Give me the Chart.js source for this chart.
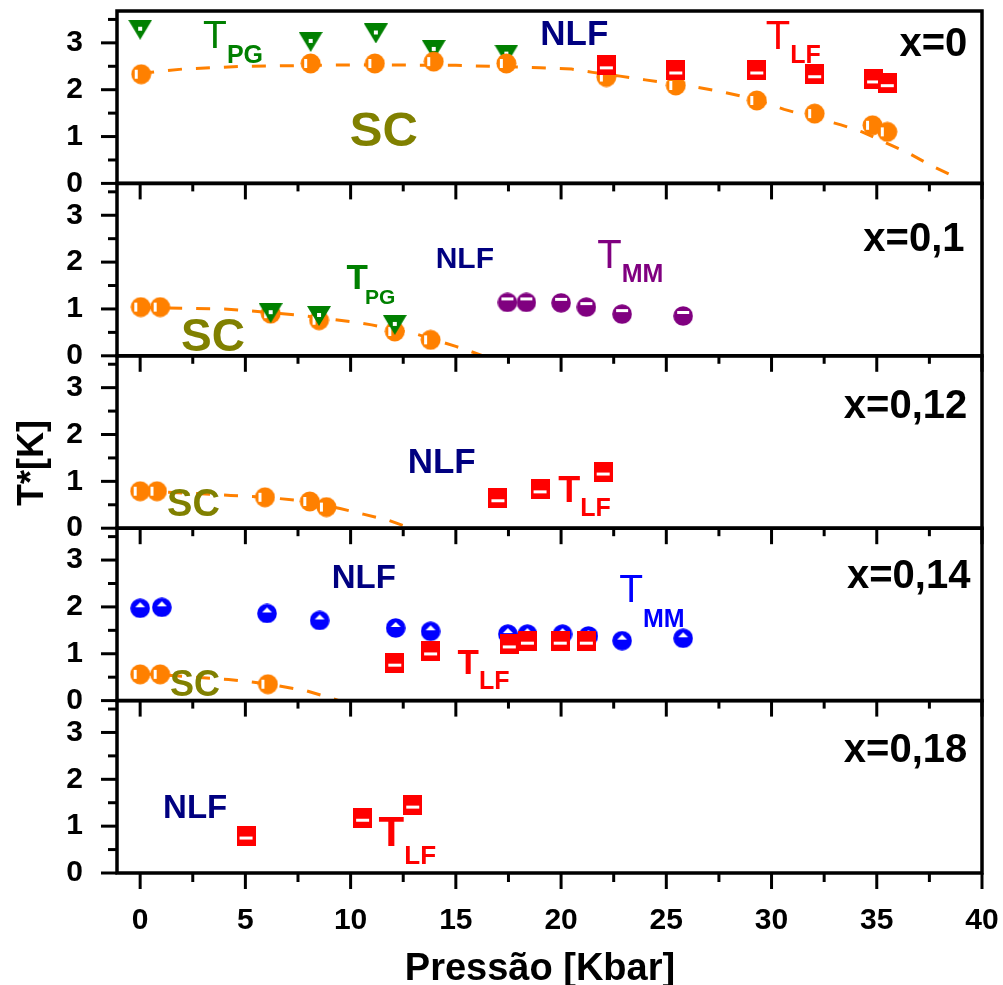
<!DOCTYPE html>
<html><head><meta charset="utf-8">
<script src="https://cdn.jsdelivr.net/npm/chart.js@4.4.1/dist/chart.umd.min.js"></script>
<style>html,body{margin:0;padding:0;background:#fff;}canvas{display:block;}</style>
</head><body>
<canvas id="c" width="1003" height="985"></canvas>
<script>
// ---------- DATA ----------
const xTickValues = [0, 5, 10, 15, 20, 25, 30, 35, 40];
const xMinorValues = [2.5, 7.5, 12.5, 17.5, 22.5, 27.5, 32.5, 37.5];
const yTickValues = [0, 1, 2, 3];
const yMinorValues = [0.5, 1.5, 2.5, 3.5];
const panelLabels = ['x=0', 'x=0,1', 'x=0,12', 'x=0,14', 'x=0,18'];

// x = 0
const pg0_x = [0, 8.1, 11.2, 13.95, 17.4];
const pg0_y = [3.28, 3.02, 3.2, 2.85, 2.75];
const sc0_x = [0.05, 8.1, 11.15, 13.95, 17.4, 22.15, 25.45, 29.3, 32.05, 34.8, 35.5];
const sc0_y = [2.33, 2.56, 2.56, 2.6, 2.56, 2.27, 2.09, 1.77, 1.49, 1.24, 1.1];
const lf0_x = [22.15, 25.45, 29.3, 32.05, 34.85, 35.5];
const lf0_y = [2.52, 2.41, 2.41, 2.33, 2.22, 2.14];
const fit0_x = [0, 2, 5, 10, 15, 19, 20.5, 21.5, 22.8, 24, 26.5, 27.7, 29.2, 30.6, 33.3, 34.3, 36.5, 37.5, 39];
const fit0_y = [2.35, 2.44, 2.5, 2.53, 2.52, 2.47, 2.44, 2.37, 2.29, 2.21, 2.05, 1.95, 1.8, 1.58, 1.25, 1.1, 0.65, 0.4, 0.08];

// x = 0,1
const sc1_x = [0.03, 0.95, 6.2, 8.5, 12.1, 13.8];
const sc1_y = [1.04, 1.04, 0.9, 0.76, 0.52, 0.34];
const pg1_x = [6.2, 8.5, 12.1];
const pg1_y = [0.91, 0.85, 0.66];
const mm1_x = [17.45, 18.35, 20.0, 21.2, 22.9, 25.8];
const mm1_y = [1.14, 1.14, 1.13, 1.04, 0.89, 0.85];
const fit1_x = [0, 4, 6, 7.5, 10, 11, 13, 15, 16.3];
const fit1_y = [1.03, 1.0, 0.93, 0.87, 0.73, 0.66, 0.48, 0.2, 0];

// x = 0,12
const sc2_x = [0, 0.8, 5.93, 8.06, 8.85];
const sc2_y = [0.79, 0.79, 0.66, 0.57, 0.45];
const lf2_x = [17.0, 19.0, 22.0];
const lf2_y = [0.64, 0.83, 1.21];
const fit2_x = [0, 4.3, 6, 8, 9.5, 10.6, 11.8, 12.85];
const fit2_y = [0.8, 0.7, 0.66, 0.57, 0.42, 0.3, 0.17, 0];

// x = 0,14
const mm3_x = [0, 1.03, 6.03, 8.53, 12.14, 13.8, 17.47, 18.4, 20.07, 21.3, 22.9, 25.8];
const mm3_y = [1.97, 1.99, 1.86, 1.71, 1.55, 1.48, 1.42, 1.42, 1.42, 1.38, 1.28, 1.33];
const lf3_x = [12.1, 13.8, 17.54, 18.4, 19.96, 21.2];
const lf3_y = [0.81, 1.05, 1.2, 1.28, 1.28, 1.28];
const sc3_x = [0, 0.95, 6.07];
const sc3_y = [0.56, 0.56, 0.35];
const fit3_x = [0, 4.2, 6, 7.9, 9.45];
const fit3_y = [0.58, 0.45, 0.36, 0.21, 0];

// x = 0,18
const lf4_x = [5.03, 10.57, 12.95];
const lf4_y = [0.8, 1.18, 1.46];

// ---------- STYLE ----------
const ORANGE = '#FF8000', GREEN = '#008000', OLIVE = '#808000', NAVY = '#000080',
      RED = '#FF0000', BLUE = '#0000FF', PURPLE = '#800080';
const FONT = '"Liberation Sans", Arial, sans-serif';
const AX = ['y0', 'y1', 'y2', 'y3', 'y4'];

function mk(w, h, draw) { const c = document.createElement('canvas'); c.width = w; c.height = h; draw(c.getContext('2d')); return c; }
const mOrange = mk(21, 21, g => { g.fillStyle = ORANGE; g.beginPath(); g.arc(10.5, 10.5, 10, 0, 2 * Math.PI); g.fill(); g.fillStyle = '#fff'; g.fillRect(4, 6, 3, 9); });
const mRed = mk(19, 20, g => { g.fillStyle = RED; g.fillRect(0, 0, 19, 20); g.fillStyle = '#fff'; g.fillRect(3, 11, 13, 3); });
const mGreen = mk(24, 20, g => { g.fillStyle = GREEN; g.beginPath(); g.moveTo(0, 0); g.lineTo(24, 0); g.lineTo(12, 20); g.closePath(); g.fill(); g.fillStyle = '#fff'; g.fillRect(10, 7, 4, 4); });
const mBlue = mk(20, 20, g => { g.fillStyle = BLUE; g.beginPath(); g.arc(10, 10, 9.8, 0, 2 * Math.PI); g.fill(); g.fillStyle = '#fff'; g.beginPath(); g.moveTo(5, 9); g.lineTo(15, 9); g.lineTo(10, 4); g.closePath(); g.fill(); });
const mPurple = mk(20, 20, g => { g.fillStyle = PURPLE; g.beginPath(); g.arc(10, 10, 9.8, 0, 2 * Math.PI); g.fill(); g.fillStyle = '#fff'; g.fillRect(4, 5, 12, 3); });

function pts(xs, ys) { return xs.map((x, i) => ({ x: x, y: ys[i] })); }
function marks(xs, ys, axis, img, order) {
  return { data: pts(xs, ys), xAxisID: 'x', yAxisID: axis, pointStyle: img, pointRadius: 10, showLine: false, order: order };
}
function fit(xs, ys, axis) {
  return { data: pts(xs, ys), xAxisID: 'x', yAxisID: axis, showLine: true, borderColor: ORANGE, borderWidth: 3,
           borderDash: [14, 14], pointRadius: 0, fill: false, tension: 0, order: 20 };
}

const datasets = [
  fit(fit0_x, fit0_y, 'y0'), fit(fit1_x, fit1_y, 'y1'), fit(fit2_x, fit2_y, 'y2'), fit(fit3_x, fit3_y, 'y3'),
  marks(pg0_x, pg0_y, 'y0', mGreen, 8), marks(sc0_x, sc0_y, 'y0', mOrange, 7), marks(lf0_x, lf0_y, 'y0', mRed, 2),
  marks(sc1_x, sc1_y, 'y1', mOrange, 7), marks(pg1_x, pg1_y, 'y1', mGreen, 5), marks(mm1_x, mm1_y, 'y1', mPurple, 3),
  marks(sc2_x, sc2_y, 'y2', mOrange, 7), marks(lf2_x, lf2_y, 'y2', mRed, 2),
  marks(sc3_x, sc3_y, 'y3', mOrange, 7), marks(mm3_x, mm3_y, 'y3', mBlue, 4), marks(lf3_x, lf3_y, 'y3', mRed, 2),
  marks(lf4_x, lf4_y, 'y4', mRed, 2)
];

// text annotations (data coordinates of text anchor)
const notes = [
  { axis: 'y0', x: 2.99, y: 2.88, text: 'T', w: 'normal', size: 39, color: GREEN, sub: 'PG', subSize: 25, subDy: 15 },
  { axis: 'y0', x: 9.96, y: 0.79, text: 'SC', w: 'bold', size: 49, color: OLIVE },
  { axis: 'y0', x: 19.01, y: 2.95, text: 'NLF', w: 'bold', size: 35, color: NAVY },
  { axis: 'y0', x: 29.73, y: 2.86, text: 'T', w: 'normal', size: 40, color: RED, sub: 'LF', subSize: 25, subDy: 14 },
  { axis: 'y1', x: 9.81, y: 1.43, text: 'T', w: 'bold', size: 35, color: GREEN, sub: 'PG', subSize: 21, subDy: 15, subDx: -3 },
  { axis: 'y1', x: 14.04, y: 1.88, text: 'NLF', w: 'bold', size: 30, color: NAVY },
  { axis: 'y1', x: 1.94, y: 0.10, text: 'SC', w: 'bold', size: 46, color: OLIVE },
  { axis: 'y1', x: 21.72, y: 1.88, text: 'T', w: 'normal', size: 40, color: PURPLE, sub: 'MM', subSize: 25, subDy: 14 },
  { axis: 'y2', x: 12.71, y: 1.18, text: 'NLF', w: 'bold', size: 35, color: NAVY },
  { axis: 'y2', x: 1.28, y: 0.26, text: 'SC', w: 'bold', size: 38, color: OLIVE },
  { axis: 'y2', x: 19.87, y: 0.56, text: 'T', w: 'bold', size: 36, color: RED, sub: 'LF', subSize: 25, subDy: 14 },
  { axis: 'y3', x: 9.1, y: 2.40, text: 'NLF', w: 'bold', size: 33, color: NAVY },
  { axis: 'y3', x: 1.42, y: 0.09, text: 'SC', w: 'bold', size: 36, color: OLIVE },
  { axis: 'y3', x: 15.08, y: 0.56, text: 'T', w: 'bold', size: 35, color: RED, sub: 'LF', subSize: 25, subDy: 15 },
  { axis: 'y3', x: 22.76, y: 2.10, text: 'T', w: 'normal', size: 39, color: BLUE, sub: 'MM', subSize: 25, subDy: 25 },
  { axis: 'y4', x: 1.09, y: 1.18, text: 'NLF', w: 'bold', size: 33, color: NAVY },
  { axis: 'y4', x: 11.33, y: 0.57, text: 'T', w: 'bold', size: 42, color: RED, sub: 'LF', subSize: 26, subDy: 18 },
  { axis: 'y0', x: 39.3, y: 2.71, text: panelLabels[0], w: 'bold', size: 40, color: '#000', align: 'right' },
  { axis: 'y1', x: 39.17, y: 2.24, text: panelLabels[1], w: 'bold', size: 40, color: '#000', align: 'right' },
  { axis: 'y2', x: 39.3, y: 2.35, text: panelLabels[2], w: 'bold', size: 40, color: '#000', align: 'right' },
  { axis: 'y3', x: 39.45, y: 2.40, text: panelLabels[3], w: 'bold', size: 40, color: '#000', align: 'right' },
  { axis: 'y4', x: 39.3, y: 2.36, text: panelLabels[4], w: 'bold', size: 40, color: '#000', align: 'right' }
];

const framePlugin = {
  id: 'frame',
  afterDraw(chart) {
    const g = chart.ctx, xs = chart.scales.x, a = chart.chartArea;
    const line = (x1, y1, x2, y2) => { g.beginPath(); g.moveTo(x1, y1); g.lineTo(x2, y2); g.stroke(); };
    g.save();
    g.strokeStyle = '#000';
    g.lineCap = 'butt';
    AX.forEach((id, i) => {
      const ys = chart.scales[id];
      g.lineWidth = 3;
      yTickValues.forEach(v => { const p = ys.getPixelForValue(v); line(a.left - 16, p, a.left, p); });
      yMinorValues.forEach(v => { const p = ys.getPixelForValue(v); line(a.left - 9, p, a.left, p); });
      if (i > 0) {
        xTickValues.forEach(v => { const p = xs.getPixelForValue(v); line(p, ys.top, p, ys.top + 16); });
        xMinorValues.forEach(v => { const p = xs.getPixelForValue(v); line(p, ys.top, p, ys.top + 8); });
      }
    });
    g.lineWidth = 3;
    xTickValues.forEach(v => { const p = xs.getPixelForValue(v); line(p, a.bottom, p, a.bottom + 16); });
    xMinorValues.forEach(v => { const p = xs.getPixelForValue(v); line(p, a.bottom, p, a.bottom + 9); });
    g.lineWidth = 3.5;
    AX.forEach(id => { const ys = chart.scales[id]; g.strokeRect(a.left, ys.top, a.right - a.left, ys.bottom - ys.top); });

    notes.forEach(n => {
      const px = xs.getPixelForValue(n.x), py = chart.scales[n.axis].getPixelForValue(n.y);
      g.font = n.w + ' ' + n.size + 'px ' + FONT;
      g.fillStyle = n.color; g.textBaseline = 'alphabetic'; g.textAlign = n.align || 'left';
      g.fillText(n.text, px, py);
      if (n.sub) {
        const w = g.measureText(n.text).width;
        g.font = 'bold ' + n.subSize + 'px ' + FONT;
        g.textAlign = 'left';
        g.fillText(n.sub, px + w + (n.subDx || 0), py + n.subDy);
      }
    });

    // axis titles
    g.fillStyle = '#000';
    g.font = 'bold 38px ' + FONT;
    g.textAlign = 'center'; g.textBaseline = 'alphabetic';
    g.fillText('Pressão [Kbar]', 540, 980);
    g.save();
    g.translate(43, 463);
    g.rotate(-Math.PI / 2);
    g.font = 'bold 36px ' + FONT;
    g.fillText('T*[K]', 0, 0);
    g.restore();
    g.restore();
  }
};

const tickFont = { family: FONT, weight: 'bold', size: 30 };
const scales = {
  x: {
    type: 'linear', position: 'bottom', min: -1.1, max: 40,
    grid: { display: false }, border: { display: false },
    ticks: { font: tickFont, color: '#000', padding: 22, maxRotation: 0, autoSkip: false },
    afterBuildTicks: s => { s.ticks = xTickValues.map(v => ({ value: v })); },
    afterFit: s => { s.height = 112; s.paddingLeft = 0; s.paddingRight = 0; s.paddingTop = 0; s.paddingBottom = 0; }
  }
};
// define bottom panel first so that it is stacked at the bottom
AX.slice().reverse().forEach(id => {
  scales[id] = {
    type: 'linear', position: 'left', stack: 'panels', stackWeight: 1, min: 0, max: 3.68,
    grid: { display: false }, border: { display: false },
    ticks: { font: tickFont, color: '#000', padding: 26, autoSkip: false, includeBounds: false },
    afterBuildTicks: s => { s.ticks = yTickValues.map(v => ({ value: v })); },
    afterFit: s => { s.width = 117; s.paddingTop = 0; s.paddingBottom = 0; s.paddingLeft = 0; s.paddingRight = 0; }
  };
});

new Chart(document.getElementById('c'), {
  type: 'scatter',
  data: { datasets: datasets },
  options: {
    responsive: false, animation: false, events: [],
    layout: { padding: { left: 0, top: 11, right: 21, bottom: 0 } },
    plugins: { legend: { display: false }, tooltip: { enabled: false } },
    scales: scales
  },
  plugins: [framePlugin]
});
</script>
</body></html>
